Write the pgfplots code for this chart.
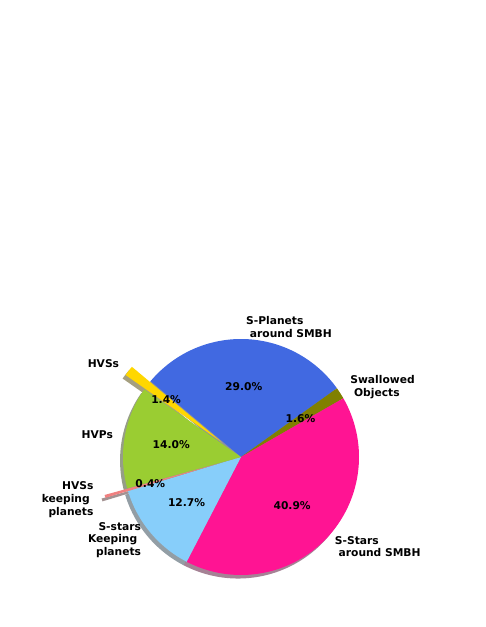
\documentclass[border=0pt]{standalone}
\usepackage{fontspec}
\setmainfont{DejaVu Sans}
\usepackage{pgfplots}
\usepackage{pgfplotstable}
\pgfplotsset{compat=1.18}

\definecolor{cPlanet}{RGB}{65,105,225}
\definecolor{cSwallow}{RGB}{128,128,0}
\definecolor{cStars}{RGB}{255,20,147}
\definecolor{cKeep}{RGB}{135,206,250}
\definecolor{cHVSk}{RGB}{240,128,128}
\definecolor{cHVP}{RGB}{154,205,50}
\definecolor{cHVS}{RGB}{255,215,0}

% share (%) of each slice, clockwise from 140 deg
\pgfplotstableread{
pct   explode colour
29.0  0.0     cPlanet
1.6   0.0     cSwallow
40.9  0.0     cStars
12.7  0.0     cKeep
0.4   0.2     cHVSk
14.0  0.0     cHVP
1.4   0.2     cHVS
}\piedata

\newcommand\lab[4]{\node[anchor=#2, align=#3] at (axis cs:\csname lx#1\endcsname,\csname ly#1\endcsname) {#4};}

\begin{document}
\begin{tikzpicture}[every node/.style={font=\bfseries\fontsize{10.7}{12.6}\selectfont, inner sep=0pt}]
% angles and positions
\xdef\cum{140}
\foreach \i in {0,...,6}{%
  \pgfplotstablegetelem{\i}{pct}\of\piedata \xdef\pp{\pgfplotsretval}%
  \pgfplotstablegetelem{\i}{explode}\of\piedata \xdef\ee{\pgfplotsretval}%
  \pgfplotstablegetelem{\i}{colour}\of\piedata \expandafter\xdef\csname c\i\endcsname{\pgfplotsretval}%
  \pgfmathsetmacro\endang{\cum-3.6*\pp}%
  \pgfmathsetmacro\midang{(\cum+\endang)/2}%
  \expandafter\xdef\csname a\i\endcsname{\cum}%
  \expandafter\xdef\csname b\i\endcsname{\endang}%
  \expandafter\xdef\csname p\i\endcsname{\pp}%
  \pgfmathsetmacro\t{\ee*cos(\midang)}\expandafter\xdef\csname cx\i\endcsname{\t}%
  \pgfmathsetmacro\t{\ee*sin(\midang)}\expandafter\xdef\csname cy\i\endcsname{\t}%
  \pgfmathsetmacro\t{\ee*cos(\midang)-0.025}\expandafter\xdef\csname sx\i\endcsname{\t}%
  \pgfmathsetmacro\t{\ee*sin(\midang)-0.03}\expandafter\xdef\csname sy\i\endcsname{\t}%
  \pgfmathsetmacro\t{(\ee+1.1)*cos(\midang)}\expandafter\xdef\csname lx\i\endcsname{\t}%
  \pgfmathsetmacro\t{(\ee+1.1)*sin(\midang)}\expandafter\xdef\csname ly\i\endcsname{\t}%
  \pgfmathsetmacro\t{(\ee+0.6)*cos(\midang)}\expandafter\xdef\csname px\i\endcsname{\t}%
  \pgfmathsetmacro\t{(\ee+0.6)*sin(\midang)}\expandafter\xdef\csname py\i\endcsname{\t}%
  \xdef\cum{\endang}%
}
\begin{axis}[
    hide axis, scale only axis, clip=false,
    width=485pt, height=627pt,
    xmin=-2.0424, xmax=2.0678, ymin=-1.4407, ymax=3.8729,
]
\path (rel axis cs:0,0) rectangle (rel axis cs:1,1);
% shadows
\pgfplotsinvokeforeach{0,...,6}{%
  \edef\tmp{\noexpand\addplot[draw=none, fill=\csname c#1\endcsname!30!black, fill opacity=0.5,
    domain=\csname b#1\endcsname:\csname a#1\endcsname, samples=90]
    ({\csname sx#1\endcsname+cos(x)},{\csname sy#1\endcsname+sin(x)})
    -- (axis cs:\csname sx#1\endcsname,\csname sy#1\endcsname) -- cycle;}\tmp
}
% slices
\pgfplotsinvokeforeach{0,...,6}{%
  \edef\tmp{\noexpand\addplot[draw=none, fill=\csname c#1\endcsname,
    domain=\csname b#1\endcsname:\csname a#1\endcsname, samples=90]
    ({\csname cx#1\endcsname+cos(x)},{\csname cy#1\endcsname+sin(x)})
    -- (axis cs:\csname cx#1\endcsname,\csname cy#1\endcsname) -- cycle;}\tmp
}
% percentages
\pgfplotsinvokeforeach{0,...,6}{%
  \node at (axis cs:\csname px#1\endcsname,\csname py#1\endcsname) {\csname p#1\endcsname\%};
}
% labels
\lab{0}{west}{left}{S-Planets\\\kern.35em around SMBH}
\lab{1}{west}{left}{Swallowed\\\kern.35em Objects}
\lab{2}{west}{left}{S-Stars\\\kern.35em around SMBH}
\lab{3}{east}{right}{S-stars\\Keeping\kern.35em\\planets}
\lab{4}{east}{right}{HVSs\\keeping\kern.35em\\planets}
\lab{5}{east}{right}{HVPs}
\lab{6}{east}{right}{HVSs}
\end{axis}
\end{tikzpicture}
\end{document}
